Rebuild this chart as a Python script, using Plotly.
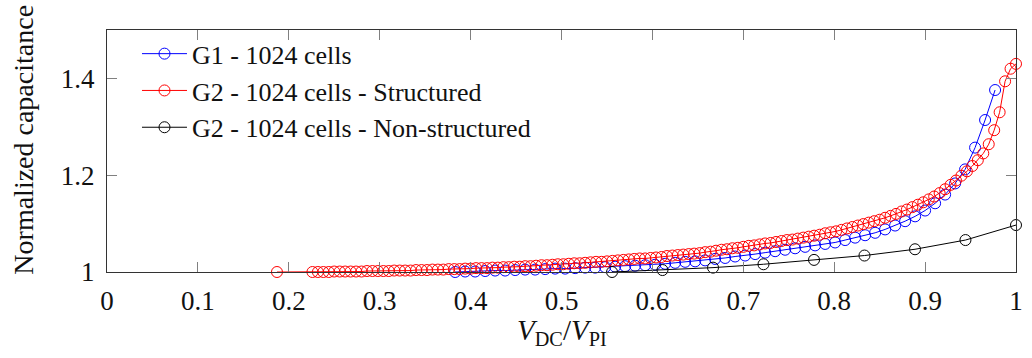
import plotly.graph_objects as go

# Normalized capacitance versus normalized DC bias
g1_x = [0.383, 0.394, 0.405, 0.416, 0.427, 0.438, 0.449, 0.460, 0.471, 0.482,
        0.493, 0.504, 0.515, 0.526, 0.537, 0.548, 0.559, 0.570, 0.581, 0.592,
        0.603, 0.614, 0.625, 0.636, 0.647, 0.658, 0.669, 0.680, 0.691, 0.702,
        0.713, 0.724, 0.735, 0.746, 0.757, 0.768, 0.779, 0.790, 0.801, 0.812,
        0.823, 0.834, 0.845, 0.856, 0.867, 0.878, 0.889, 0.900, 0.911, 0.922,
        0.933, 0.944, 0.955, 0.966, 0.977]
g1_y = [1.000, 1.001, 1.001, 1.002, 1.003, 1.003, 1.004, 1.005, 1.005, 1.006,
        1.007, 1.007, 1.008, 1.009, 1.009, 1.010, 1.011, 1.012, 1.013, 1.014,
        1.015, 1.017, 1.019, 1.021, 1.022, 1.024, 1.027, 1.029, 1.032, 1.034,
        1.037, 1.040, 1.043, 1.046, 1.049, 1.052, 1.055, 1.058, 1.061, 1.066,
        1.071, 1.076, 1.081, 1.088, 1.096, 1.105, 1.115, 1.127, 1.142, 1.160,
        1.183, 1.212, 1.257, 1.314, 1.376]

g2s_x = [0.187,
         0.226, 0.232, 0.238, 0.244, 0.250, 0.256, 0.262, 0.268, 0.274, 0.280,
         0.286, 0.292, 0.298, 0.304, 0.310, 0.316, 0.322, 0.328, 0.334, 0.340,
         0.346, 0.352, 0.358, 0.364, 0.370, 0.376, 0.382, 0.388, 0.394, 0.400,
         0.406, 0.412, 0.418, 0.424, 0.430, 0.436, 0.442, 0.448, 0.454, 0.460,
         0.466, 0.472, 0.478, 0.484, 0.490, 0.496, 0.502, 0.508, 0.514, 0.520,
         0.526, 0.532, 0.538, 0.544, 0.550, 0.556, 0.562, 0.568, 0.574, 0.580,
         0.586, 0.592, 0.598, 0.604, 0.610, 0.616, 0.622, 0.628, 0.634, 0.640,
         0.646, 0.652, 0.658, 0.664, 0.670, 0.676, 0.682, 0.688, 0.694, 0.700,
         0.706, 0.712, 0.718, 0.724, 0.730, 0.736, 0.742, 0.748, 0.754, 0.760,
         0.766, 0.772, 0.778, 0.784, 0.790, 0.796, 0.802, 0.808, 0.814, 0.820,
         0.826, 0.832, 0.838, 0.844, 0.850, 0.856, 0.862, 0.868, 0.874, 0.880,
         0.886, 0.892, 0.898, 0.904, 0.910, 0.916, 0.922, 0.928, 0.934, 0.940,
         0.946, 0.952, 0.958, 0.964, 0.970, 0.976, 0.982, 0.988, 0.994, 1.000]
g2s_y = [1.000,
         1.000, 1.000, 1.000, 1.000, 1.001, 1.001, 1.001, 1.001, 1.001, 1.001,
         1.002, 1.002, 1.002, 1.002, 1.002, 1.003, 1.003, 1.003, 1.003, 1.004,
         1.004, 1.004, 1.005, 1.005, 1.005, 1.006, 1.006, 1.006, 1.007, 1.007,
         1.008, 1.008, 1.008, 1.009, 1.009, 1.010, 1.010, 1.011, 1.011, 1.012,
         1.012, 1.013, 1.014, 1.014, 1.015, 1.016, 1.016, 1.017, 1.018, 1.018,
         1.019, 1.020, 1.021, 1.021, 1.022, 1.023, 1.024, 1.025, 1.026, 1.027,
         1.028, 1.028, 1.029, 1.030, 1.031, 1.033, 1.034, 1.035, 1.036, 1.037,
         1.038, 1.039, 1.041, 1.042, 1.044, 1.046, 1.047, 1.049, 1.050, 1.052,
         1.054, 1.055, 1.057, 1.059, 1.060, 1.062, 1.064, 1.066, 1.067, 1.069,
         1.071, 1.073, 1.075, 1.077, 1.080, 1.082, 1.084, 1.087, 1.090, 1.093,
         1.096, 1.099, 1.102, 1.105, 1.108, 1.112, 1.116, 1.120, 1.125, 1.129,
         1.134, 1.139, 1.144, 1.150, 1.156, 1.163, 1.171, 1.180, 1.189, 1.199,
         1.208, 1.219, 1.231, 1.245, 1.264, 1.293, 1.330, 1.394, 1.420, 1.430]

g2n_x = [0.5556, 0.6111, 0.6667, 0.7222, 0.7778, 0.8333, 0.8889, 0.9444, 1.0]
g2n_y = [1.000, 1.004, 1.009, 1.016, 1.025, 1.034, 1.047, 1.066, 1.097]

x_ticks = [0, 0.1, 0.2, 0.3, 0.4, 0.5, 0.6, 0.7, 0.8, 0.9, 1.0]
x_tick_text = ["0", "0.1", "0.2", "0.3", "0.4", "0.5", "0.6", "0.7", "0.8", "0.9", "1"]
y_ticks = [1.0, 1.2, 1.4]
y_tick_text = ["1", "1.2", "1.4"]

FONT = "Liberation Serif"
TEXT = "#111111"
series = [
    ("G1 - 1024 cells", g1_x, g1_y, "#0000ff"),
    ("G2 - 1024 cells - Structured", g2s_x, g2s_y, "#ff0000"),
    ("G2 - 1024 cells - Non-structured", g2n_x, g2n_y, "#000000"),
]

# figure and plot-area geometry in pixels
W, H = 1032, 358
pl, pr, pt, pb = 107, 9, 30, 86
pw, ph = W - pl - pr, H - pt - pb


def px_x(x):
    return (x - pl) / pw


def px_y(y):
    return (H - pb - y) / ph


fig = go.Figure()
for name, xs, ys, color in series:
    fig.add_trace(go.Scatter(
        x=xs, y=ys, name=name, mode="lines+markers",
        line=dict(color=color, width=1),
        marker=dict(symbol="circle-open", size=11, color=color, line=dict(width=1)),
        cliponaxis=False,
    ))

axis_common = dict(
    showline=True, linecolor="#333333", linewidth=1.2, mirror="ticks",
    ticks="inside", ticklen=10, tickwidth=1, tickcolor="#808080",
    showgrid=False, zeroline=False,
    tickfont=dict(family=FONT, size=27, color=TEXT),
)

fig.update_xaxes(range=[0, 1], tickvals=x_ticks, ticktext=x_tick_text,
                 ticklabelstandoff=4, **axis_common)
fig.update_yaxes(range=[1, 1.5], tickvals=y_ticks, ticktext=y_tick_text,
                 ticklabelstandoff=6, **axis_common)

fig.update_layout(
    width=W, height=H,
    margin=dict(l=pl, r=pr, t=pt, b=pb),
    paper_bgcolor="white", plot_bgcolor="white",
    font=dict(family=FONT, color=TEXT),
    showlegend=True,
    legend=dict(
        x=0.033, y=0.999, xanchor="left", yanchor="top",
        bgcolor="rgba(0,0,0,0)", borderwidth=0,
        font=dict(family=FONT, size=26, color=TEXT),
        itemwidth=45,
    ),
    annotations=[
        dict(text="<i>V</i><sub>DC</sub>/<i>V</i><sub>PI</sub>",
             x=px_x(565), y=px_y(332), xref="paper", yref="paper",
             xanchor="center", yanchor="middle", showarrow=False,
             font=dict(family=FONT, size=29, color=TEXT)),
        dict(text="Normalized capacitance", textangle=-90,
             x=px_x(22), y=px_y(140), xref="paper", yref="paper",
             xanchor="center", yanchor="middle", showarrow=False,
             font=dict(family=FONT, size=28, color=TEXT)),
    ],
)

fig.write_html("out.html")
